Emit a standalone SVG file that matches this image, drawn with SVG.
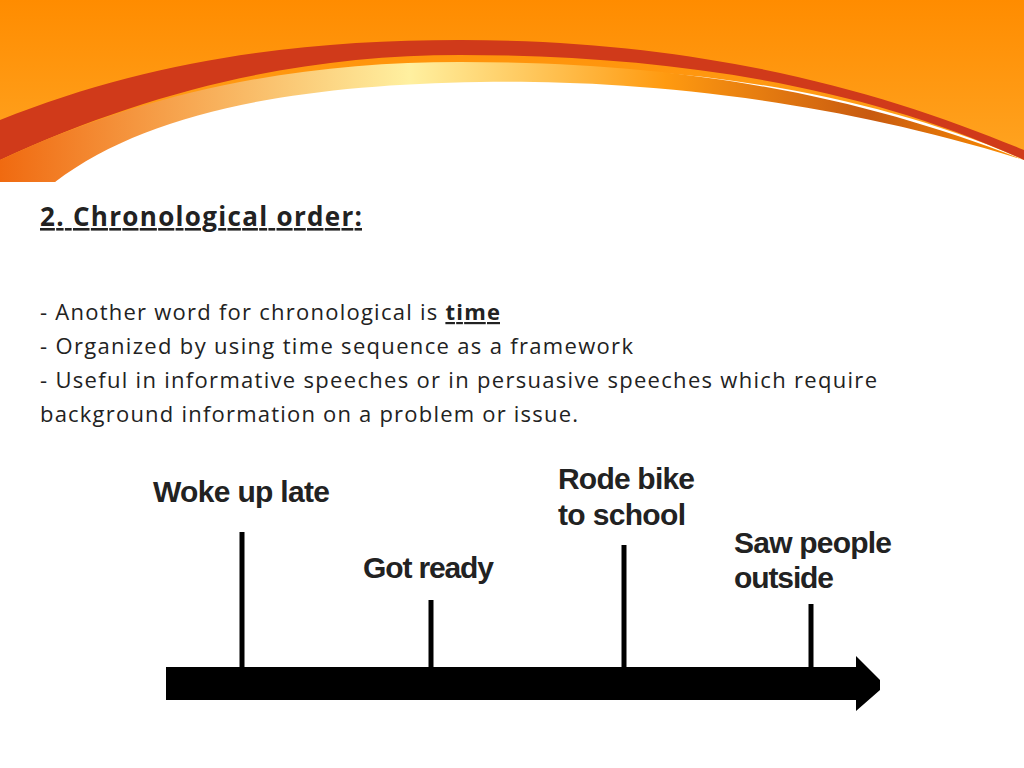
<svg xmlns="http://www.w3.org/2000/svg" width="1024" height="768" viewBox="0 0 1024 768">
<defs>
<linearGradient id="bg" x1="0" y1="0" x2="0" y2="1"><stop offset="0" stop-color="#ff8c00"/><stop offset="1" stop-color="#ffa726"/></linearGradient>
<linearGradient id="band" x1="0" y1="0" x2="1" y2="0"><stop offset="0" stop-color="#f06a10"/><stop offset="0.4" stop-color="#fff0a0"/><stop offset="0.65" stop-color="#ff9a10"/><stop offset="0.85" stop-color="#c85a10"/><stop offset="1" stop-color="#ff9000"/></linearGradient>
<style>
.t{font-family:"Open Sans","Liberation Sans",sans-serif;font-size:22px;fill:#222}
.l{font-family:"Liberation Sans",Arial,sans-serif;font-weight:bold;font-size:30px;fill:#222}
.tick{stroke:#000;stroke-width:5}
</style>
</defs>
<rect width="1024" height="768" fill="#fff"/>
<g id="header">
<path d="M0 0H1024V160C800 60 500 50 300 85C150 110 80 150 55 182H0Z" fill="url(#bg)"/>
<path d="M0 120C150 60 300 40 460 40C700 40 880 90 1024 150V160C850 80 650 55 460 55C300 55 150 90 0 160Z" fill="#d03a1a"/>
<path d="M0 160C150 90 300 62 460 62C700 62 870 100 1024 160C800 90 600 80 480 82C300 85 150 110 55 182H0Z" fill="url(#band)"/>
</g>
<g id="text">
<text x="40" y="226" class="t" style="font-weight:bold;font-size:26px" text-decoration="underline" textLength="322">2. Chronological order:</text>
<text x="40" y="320" class="t" textLength="460">- Another word for chronological is <tspan font-weight="bold" text-decoration="underline">time</tspan></text>
<text x="40" y="354" class="t" textLength="593">- Organized by using time sequence as a framework</text>
<text x="40" y="388" class="t" textLength="837">- Useful in informative speeches or in persuasive speeches which require</text>
<text x="40" y="422" class="t" textLength="538">background information on a problem or issue.</text>
</g>
<g id="connectors">
<line class="tick" x1="242" y1="532" x2="242" y2="668"/>
<line class="tick" x1="431" y1="600" x2="431" y2="668"/>
<line class="tick" x1="624" y1="545" x2="624" y2="668"/>
<line class="tick" x1="811" y1="604" x2="811" y2="668"/>
<path d="M166 667H856V656L880 680V690L856 711V700H166Z" fill="#000"/>
</g>
<g id="n1"><text x="153" y="502" class="l" textLength="177">Woke up late</text></g>
<g id="n2"><text x="363" y="578" class="l" textLength="131">Got ready</text></g>
<g id="n3"><text x="558" y="489" class="l" textLength="137">Rode bike</text><text x="558" y="525" class="l" textLength="128">to school</text></g>
<g id="n4"><text x="734" y="553" class="l" textLength="158">Saw people</text><text x="734" y="588" class="l" textLength="100">outside</text></g>
</svg>
